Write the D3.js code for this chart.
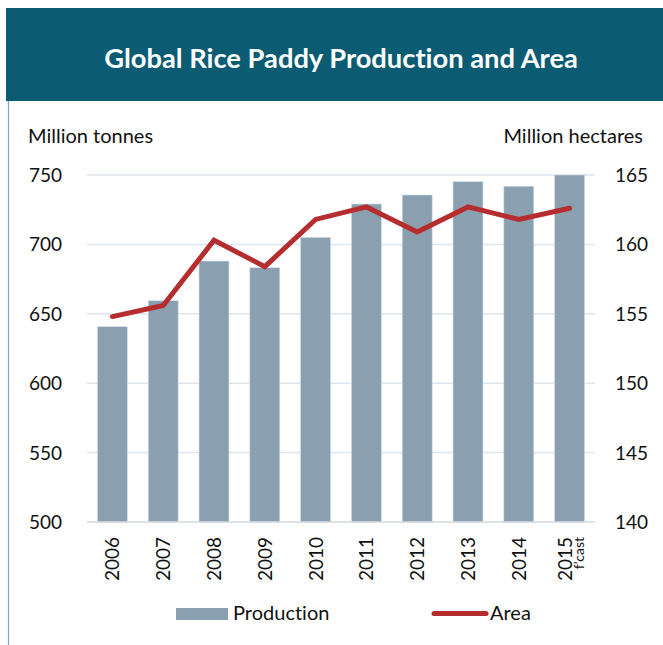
<!DOCTYPE html>
<html><head><meta charset="utf-8">
<script src="https://cdn.jsdelivr.net/npm/d3@7"></script>
<style>html,body{margin:0;padding:0;background:#fff;}svg{display:block;font-family:Lato,"Open Sans",sans-serif;font-variant-ligatures:none;font-feature-settings:"liga" 0,"clig" 0;}</style>
</head><body>
<svg id="c" width="663" height="645"></svg>
<script>
const years = ["2006","2007","2008","2009","2010","2011","2012","2013","2014","2015"];
const production = [640.7, 659.4, 688, 683.2, 705.1, 729.1, 735.6, 745.2, 741.9, 750];
const area = [154.8, 155.6, 160.3, 158.4, 161.8, 162.7, 160.9, 162.7, 161.8, 162.6];
const leftTicks = [500, 550, 600, 650, 700, 750];
const rightTicks = [140, 145, 150, 155, 160, 165];

const svg = d3.select("#c");
const W = 663, H = 645;
const m = {l: 87, r: 595, t: 175, b: 522};

// header
svg.append("rect").attr("x",6).attr("y",8).attr("width",W-6).attr("height",93).attr("fill","#0b5b73");
svg.append("text").attr("x",341).attr("y",68).attr("text-anchor","middle")
  .attr("fill","#fff").attr("font-weight","bold").attr("font-size",27.3).text("Global Rice Paddy Production and Area");
// left border
svg.append("line").attr("x1",8.5).attr("x2",8.5).attr("y1",101).attr("y2",H).attr("stroke","#7fa9bf").attr("stroke-width",1.2);

const x = d3.scaleBand().domain(years).range([m.l, m.r]).paddingInner(0.41).paddingOuter(0.205);
const yL = d3.scaleLinear().domain([500, 750]).range([m.b, m.t]);
const yR = d3.scaleLinear().domain([140, 165]).range([m.b, m.t]);

// grid
svg.append("g").selectAll("line").data(leftTicks.slice(1)).join("line")
  .attr("x1", m.l).attr("x2", m.r).attr("y1", d=>yL(d)).attr("y2", d=>yL(d))
  .attr("stroke","#dfe5ec").attr("stroke-width",1.5);

// bars
svg.append("g").selectAll("rect").data(production).join("rect")
  .attr("x",(d,i)=>x(years[i])).attr("width",x.bandwidth())
  .attr("y",d=>yL(d)).attr("height",d=>yL(500)-yL(d))
  .attr("fill","#8aa0b0").attr("stroke","#d6dee5").attr("stroke-width",0.6);

// baseline
svg.append("line").attr("x1",m.l).attr("x2",m.r).attr("y1",m.b).attr("y2",m.b).attr("stroke","#d4d8dc").attr("stroke-width",1.5);

// line
const line = d3.line().x((d,i)=>x(years[i])+x.bandwidth()/2).y(d=>yR(d));
svg.append("path").datum(area).attr("d",line).attr("fill","none")
  .attr("stroke","#b52d2e").attr("stroke-width",5).attr("stroke-linejoin","miter").attr("stroke-linecap","round");

// axes tick labels
const fs = 19;
svg.append("g").selectAll("text").data(leftTicks).join("text")
  .attr("x",62).attr("y",d=>yL(d)+7).attr("text-anchor","end").attr("font-size",fs).attr("fill","#111").text(d=>d);
svg.append("g").selectAll("text").data(rightTicks).join("text")
  .attr("x",615).attr("y",d=>yR(d)+7).attr("text-anchor","start").attr("font-size",fs).attr("fill","#111").text(d=>d);

svg.append("text").attr("x",28).attr("y",143).attr("font-size",20).attr("fill","#111").text("Million tonnes");
svg.append("text").attr("x",643).attr("y",143).attr("text-anchor","end").attr("font-size",20).attr("fill","#111").text("Million hectares");

// x labels
const xl = svg.append("g");
years.forEach((yv,i)=>{
  const cx = x(yv)+x.bandwidth()/2;
  const last = i === years.length-1;
  const g = xl.append("g").attr("transform",`translate(${last?cx-5:cx},537) rotate(-90)`);
  g.append("text").attr("x",0).attr("y",7).attr("text-anchor","end").attr("font-size",fs).attr("fill","#111").text(yv);
  if (last) g.append("text").attr("x",0).attr("y",19).attr("text-anchor","end").attr("font-size",14).attr("fill","#111").text("f'cast");
});

// legend
svg.append("rect").attr("x",176).attr("y",608).attr("width",52).attr("height",12).attr("fill","#8aa0b0");
svg.append("text").attr("x",233).attr("y",620).attr("font-size",20).attr("fill","#111").text("Production");
svg.append("line").attr("x1",434).attr("x2",486).attr("y1",613.5).attr("y2",613.5).attr("stroke","#b52d2e").attr("stroke-width",5).attr("stroke-linecap","round");
svg.append("text").attr("x",490).attr("y",620).attr("font-size",20).attr("fill","#111").text("Area");
</script>
</body></html>
